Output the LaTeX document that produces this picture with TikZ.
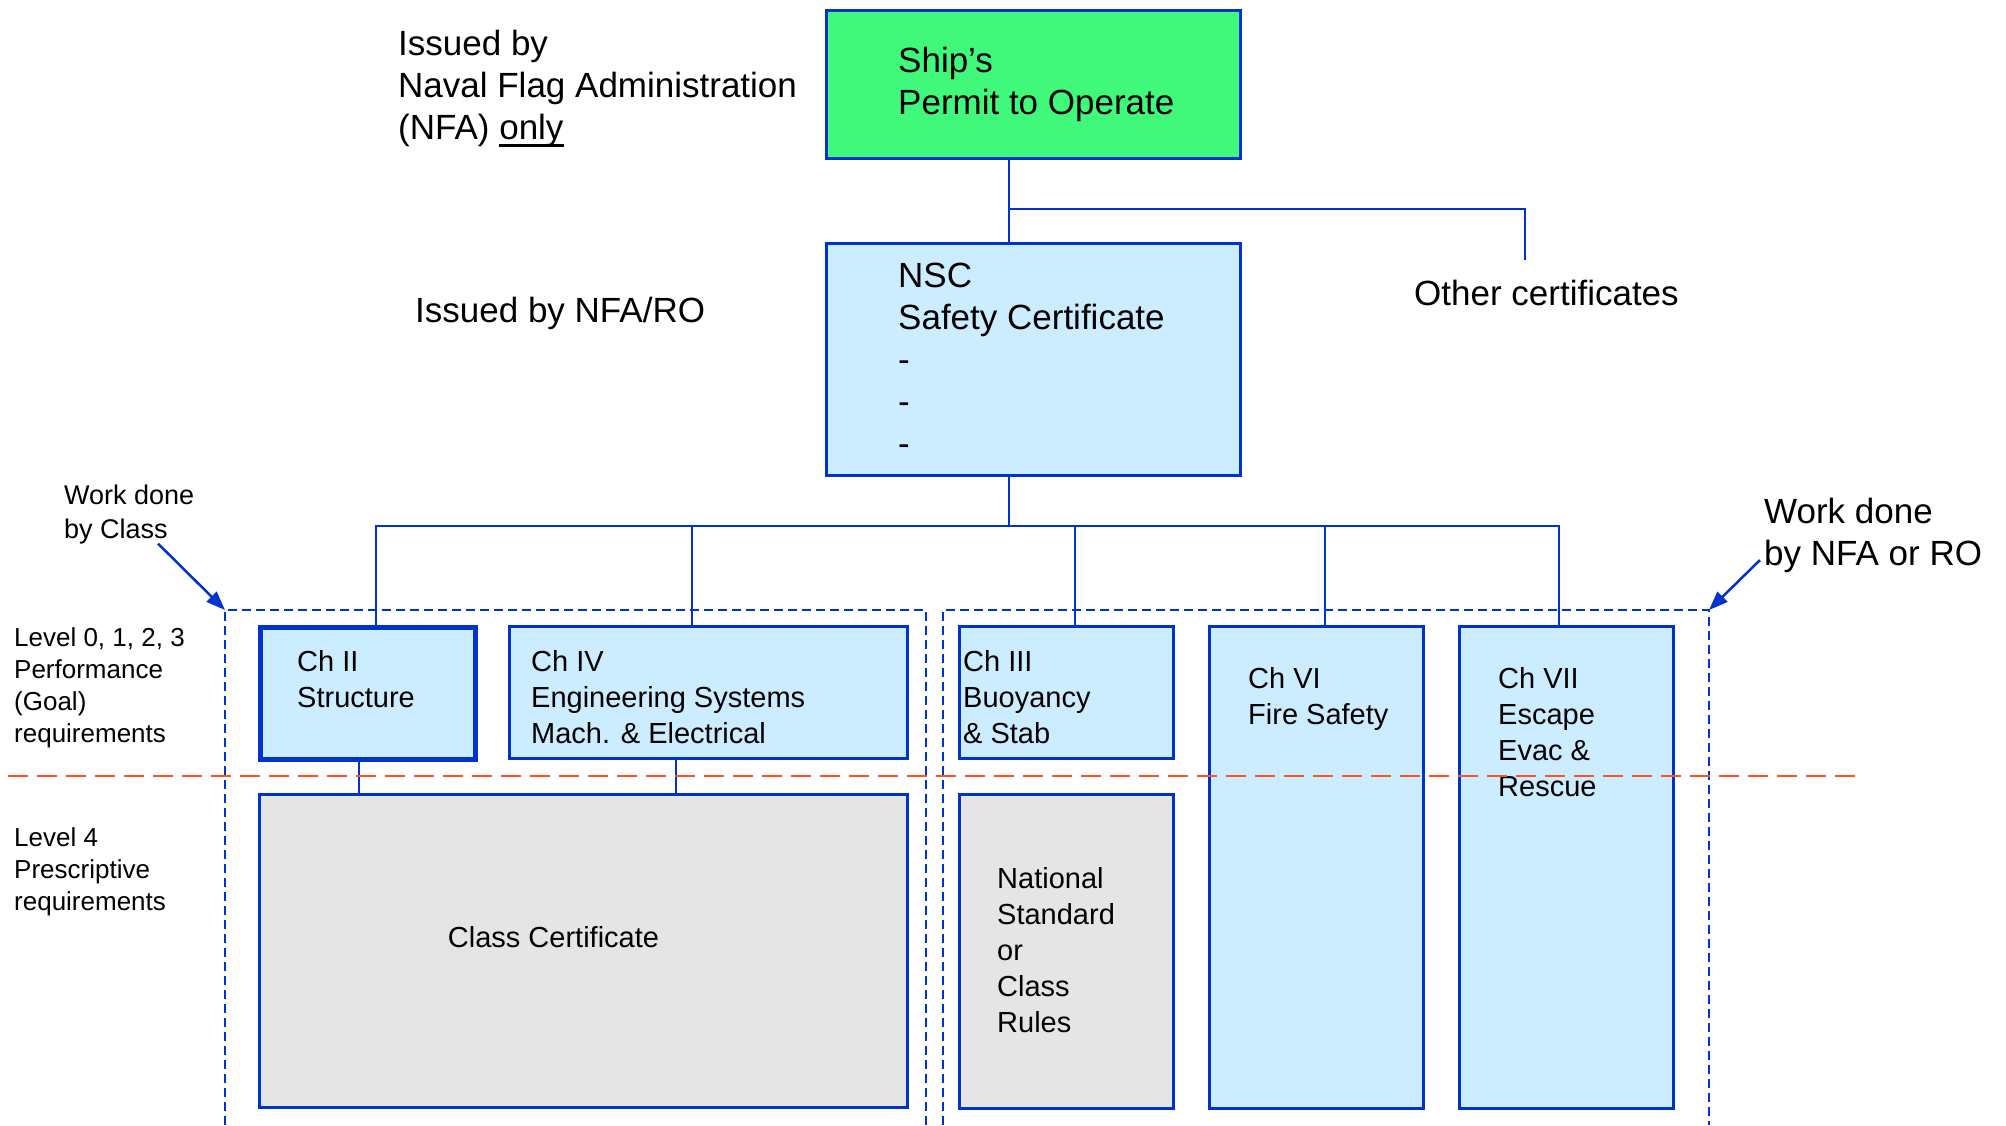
\documentclass[tikz,border=0pt]{standalone}
\usepackage{fontspec}
\setmainfont{Liberation Sans}
\usetikzlibrary{positioning,arrows.meta}
\definecolor{certblue}{RGB}{0,51,204}
\definecolor{chapblue}{RGB}{204,236,255}
\definecolor{permitgreen}{RGB}{64,248,122}
\definecolor{classgray}{RGB}{229,229,229}
\definecolor{levelred}{RGB}{255,84,34}
\newcommand{\fatunderline}[1]{\setbox0\hbox{#1}\rlap{\rule[-7.5pt]{\wd0}{3pt}}#1}

\begin{document}
\begin{tikzpicture}[x=1pt,y=-1pt,
    cert/.style={draw=certblue, line width=3pt, inner sep=0pt, anchor=north west},
    chapbox/.style={cert, fill=chapblue},
    graybox/.style={cert, fill=classgray},
    conn/.style={draw=certblue, line width=2pt},
    zone/.style={draw=certblue, line width=2pt, dash pattern=on 9pt off 5pt},
    levelline/.style={draw=levelred, line width=2.5pt, dash pattern=on 20pt off 9pt},
    notearrow/.style={draw=certblue, line width=2.5pt, -{Triangle[length=19pt,width=14pt]}},
    bigtxt/.style={font=\fontsize{35}{42}\selectfont, align=left, anchor=north west, inner sep=0pt},
    chtxt/.style={font=\fontsize{29}{36}\selectfont, align=left, anchor=north west, inner sep=0pt},
    leveltxt/.style={font=\fontsize{26}{32}\selectfont, align=left, anchor=north west, inner sep=0pt},
    notetxt/.style={font=\fontsize{27}{34}\selectfont, align=left, anchor=north west, inner sep=0pt}]
  \useasboundingbox (0,0) rectangle (2006,1125);

  % certificate boxes
  \node[cert, fill=permitgreen, minimum width=414pt, minimum height=148pt] (permit) at (825,9) {};
  \node[chapbox, minimum width=414pt, minimum height=232pt] (nsc) at (825,242) {};
  \node[chapbox, line width=4.5pt, minimum width=215pt, minimum height=132pt] (chII) at (258,625) {};
  \node[chapbox, minimum width=398pt, minimum height=132pt] (chIV) at (508,625) {};
  \node[chapbox, minimum width=214pt, minimum height=132pt] (chIII) at (958,625) {};
  \node[chapbox, minimum width=214pt, minimum height=482pt] (chVI) at (1208,625) {};
  \node[chapbox, minimum width=214pt, minimum height=482pt] (chVII) at (1458,625) {};
  \node[graybox, minimum width=648pt, minimum height=313pt] (classcert) at (258,793) {};
  \node[graybox, minimum width=214pt, minimum height=314pt] (national) at (958,793) {};

  % texts in the boxes
  \node[bigtxt, below right=38pt and 73pt of permit.north west] (permittxt) {Ship’s\\Permit to Operate};
  \node[bigtxt, below right=21pt and 73pt of nsc.north west] (nsctxt) {NSC\\Safety Certificate\\-\\-\\-};
  \node[chtxt, below right=25pt and 39pt of chII.north west] (chIItxt) {Ch II\\Structure};
  \node[chtxt, below right=25pt and 23pt of chIV.north west] (chIVtxt) {Ch IV\\Engineering Systems\\Mach. \& Electrical};
  \node[chtxt, below right=25pt and 5pt of chIII.north west] (chIIItxt) {Ch III\\Buoyancy\\\& Stab};
  \node[chtxt, below right=42pt and 40pt of chVI.north west] (chVItxt) {Ch VI\\Fire Safety};
  \node[chtxt, below right=42pt and 40pt of chVII.north west] (chVIItxt) {Ch VII\\Escape\\Evac \&\\Rescue};
  \node[chtxt, below right=74pt and 39pt of national.north west] (nationaltxt) {National\\Standard\\or\\Class\\Rules};
  \node[chtxt, anchor=center] (classtxt) at ([xshift=-30pt,yshift=14pt]classcert.center) {Class Certificate};

  % texts beside the boxes
  \node[bigtxt] (nfaonly) at (398,30) {Issued by\\Naval Flag Administration\\(NFA) \fatunderline{only}};
  \node[bigtxt] (nfaro) at (415,297) {Issued by NFA/RO};
  \node[bigtxt] (other) at (1414,280) {Other certificates};
  \node[leveltxt] (goal) at (14,627) {Level 0, 1, 2, 3\\Performance\\(Goal)\\requirements};
  \node[leveltxt] (prescr) at (14,827) {Level 4\\Prescriptive\\requirements};
  \node[notetxt] (classnote) at (64,485) {Work done\\by Class};
  \node[bigtxt] (nfanote) at (1764,498) {Work done\\by NFA or RO};

  % connectors
  \coordinate (fork) at (1009,209);
  \coordinate (otherend) at (1525,260);
  \coordinate (bus) at (1009,526);
  \draw[conn] (permit.south -| fork) -- (nsc.north -| fork);
  \draw[conn] (fork) -| (otherend);
  \draw[conn] (nsc.south -| bus) -- (bus);
  \foreach \n/\dx in {chII/118, chIV/184, chIII/117, chVI/117, chVII/101}
    \draw[conn] ([xshift=\dx pt]\n.north west) |- (bus);
  \draw[conn] ([xshift=101pt]chII.south west) -- ([xshift=101pt]classcert.north west);
  \draw[conn] ([xshift=168pt]chIV.south west) -- ([xshift=418pt]classcert.north west);

  % work zones
  \coordinate (classzone) at (225,610);
  \coordinate (nfazone) at (1709,610);
  \draw[zone] (225,1125) -- (classzone) -- (926,610) -- (926,1125);
  \draw[zone] (943,1125) -- (943,610) -- (nfazone) -- (1709,1125);
  \draw[notearrow] ([xshift=94pt,yshift=1pt]classnote.south west) -- (classzone);
  \draw[notearrow] ([xshift=-4pt,yshift=13pt]nfanote.south west) -- (nfazone);

  % level border
  \draw[levelline] (8,776) -- (1859,776);
\end{tikzpicture}
\end{document}
